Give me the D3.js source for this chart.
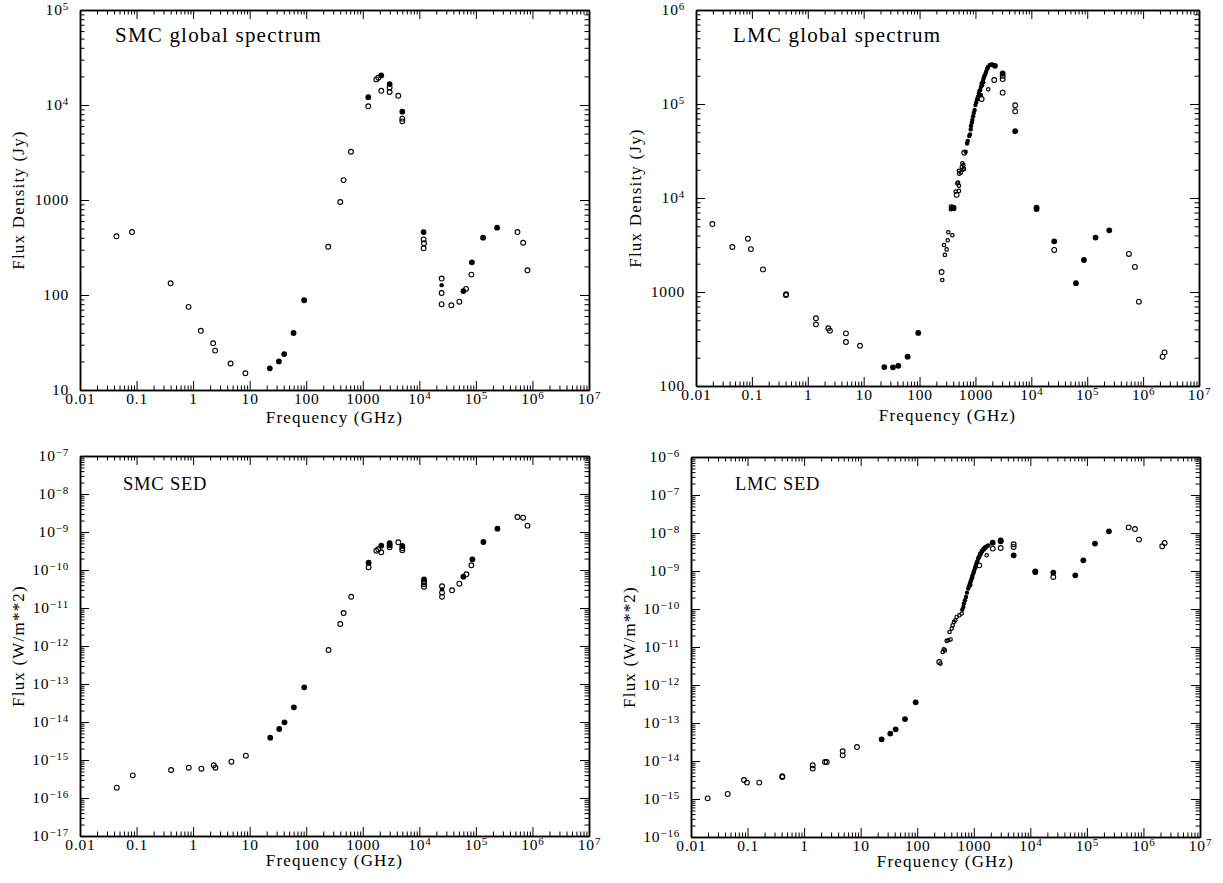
<!DOCTYPE html>
<html>
<head>
<meta charset="utf-8">
<script src="https://cdn.jsdelivr.net/npm/d3@7"></script>
<style>
  body { margin: 0; background: #fff; }
  svg { display: block; }
  text { font-family: "Liberation Serif", "Times New Roman", serif; fill: #000; }
</style>
</head>
<body>
<div id="chart"></div>
<script>
// frequency axis shared by all four panels (GHz)
const freqDomain = [0.01, 1e7];

// SMC global spectrum: [GHz, Jy]
const smcSpecOpen = [
  [0.044, 415], [0.083, 460], [0.40, 133], [0.83, 75], [1.37, 42], [2.26, 31], [2.45, 26], [4.6, 19], [8.4, 15],
  [245, 322], [400, 953], [458, 1620], [618, 3220],
  [1250, 9690], [1734, 18600], [1880, 19400], [2123, 14100], [2985, 15300], [2985, 13700], [4246, 12500], [5000, 7180], [5000, 6730],
  [11900, 385], [12100, 350], [11900, 310],
  [24800, 149], [24800, 105], [24800, 80], [36800, 78], [51000, 85], [67000, 116], [83200, 164],
  [543000, 460], [684000, 355], [817000, 182]
];
const smcSpecFilled = [
  [22.7, 16.9], [32.9, 20], [40.8, 23.9], [59.7, 39.8], [92, 88],
  [1250, 12100], [2123, 20500], [2985, 16600], [5000, 8500], [11900, 460],
  [60100, 110], [85000, 221], [134000, 401], [237000, 511]
];
const smcSpecSmallFilled = [[24800, 127]];

// LMC global spectrum: [GHz, Jy]
const lmcSpecOpen = [
  [0.0196, 5280], [0.0447, 3010], [0.085, 3690], [0.096, 2860], [0.158, 1740], [0.407, 929], [0.41, 945],
  [1.40, 525], [1.40, 453], [2.33, 411], [2.49, 388], [4.82, 363], [4.82, 294], [8.6, 268],
  [248, 1633], [395, 7800], [461, 10800], [631, 30300], [1290, 113000], [2170, 180000],
  [3070, 199000], [3070, 184000], [3070, 132000], [5150, 96900], [5150, 83600],
  [25700, 2800], [557000, 2540], [713000, 1850], [841000, 789], [2.23e6, 205], [2.42e6, 228]
];
const lmcSpecFilled = [
  [23.4, 159], [33.4, 158], [41.6, 164], [61.2, 205], [94.9, 367],
  [2234, 255000], [3070, 212000], [5150, 51300], [12400, 7640], [12400, 7900],
  [25700, 3460], [62800, 1240], [87300, 2190], [141000, 3790], [248000, 4530]
];
// scattered small points on the rising side
const lmcSpecSmallOpen = [
  [255, 1340], [284, 2480], [305, 2840], [274, 3160], [319, 3550], [327, 4320], [386, 4010],
  [363, 7590], [389, 7760], [417, 7670], [363, 8130], [389, 8040], [417, 7940],
  [443, 11700], [507, 11900], [473, 14300], [490, 14600], [507, 13500],
  [513, 18100], [550, 18600], [507, 19500], [589, 20000], [569, 21400], [624, 20400], [610, 22400], [582, 23400],
  [1694, 143200]
];
// the dense run of small points near the peak
const lmcSpecSmallFilled = [
  [668, 31100], [708, 38000], [726, 40400], [776, 45700], [798, 47400], [822, 53700], [832, 58300],
  [861, 63100], [881, 67600], [908, 74100], [933, 80400], [966, 86300], [1000, 97700], [1035, 104700],
  [1072, 112200], [1109, 119700], [1156, 130000], [1180, 138000], [1219, 140900], [1250, 125000],
  [1253, 152800], [1291, 166000], [1320, 158000], [1361, 175800], [1380, 170000], [1400, 187500],
  [1430, 196000], [1479, 203700], [1530, 214000], [1560, 220800], [1607, 235500], [1650, 242000],
  [1694, 249500], [1816, 260000], [1900, 262000], [2000, 264200]
];

// SMC SED: [GHz, W/m**2]
const smcSedOpen = [
  [0.0447, 1.87e-16], [0.0857, 3.95e-16], [0.408, 5.46e-16], [0.838, 6.27e-16], [1.40, 5.90e-16],
  [2.32, 7.26e-16], [2.48, 6.27e-16], [4.76, 9.02e-16], [8.57, 1.30e-15],
  [248, 7.85e-13], [400, 3.79e-12], [458, 7.38e-12], [625, 1.98e-11],
  [1268, 1.18e-10], [1734, 3.22e-10], [1879, 3.51e-10], [2123, 2.92e-10], [2985, 3.95e-10], [4246, 5.36e-10],
  [5000, 3.72e-10], [5000, 3.30e-10],
  [12100, 5.05e-11], [12100, 4.29e-11], [12100, 3.64e-11],
  [25200, 3.72e-11], [25200, 2.54e-11], [25200, 1.98e-11], [37900, 2.92e-11], [51000, 4.36e-11],
  [67900, 7.71e-11], [83200, 1.33e-10],
  [543000, 2.48e-9], [684000, 2.38e-9], [817000, 1.47e-9]
];
const smcSedFilled = [
  [23.1, 3.86e-15], [33.3, 6.55e-15], [41.3, 9.82e-15], [60.5, 2.44e-14], [92.3, 8.18e-14],
  [1268, 1.56e-10], [2123, 4.36e-10], [2985, 5.05e-10], [2985, 4.47e-10], [5000, 4.29e-10],
  [12100, 5.69e-11], [60100, 6.67e-11], [86700, 1.91e-10], [135800, 5.46e-10], [240400, 1.22e-9]
];
const smcSedSmallFilled = [[25200, 3.10e-11]];

// LMC SED: [GHz, W/m**2]
const lmcSedOpen = [
  [0.0197, 1.04e-15], [0.0446, 1.36e-15], [0.0865, 3.16e-15], [0.0977, 2.70e-15], [0.161, 2.70e-15],
  [0.411, 3.79e-15], [0.411, 3.98e-15], [1.42, 7.71e-15], [1.42, 6.31e-15], [2.34, 9.42e-15], [2.51, 9.42e-15],
  [4.81, 1.80e-14], [4.81, 1.41e-14], [8.61, 2.33e-14],
  [245, 4.03e-12], [1250, 1.41e-9], [2168, 3.88e-9], [2992, 4.03e-9], [5070, 5.05e-9], [5070, 4.29e-9],
  [25470, 6.95e-10], [548000, 1.41e-8], [708000, 1.27e-8], [834000, 6.70e-9], [2.15e6, 4.47e-9], [2.37e6, 5.46e-9]
];
const lmcSedFilled = [
  [23.5, 3.72e-14], [33.4, 5.26e-14], [41.6, 6.82e-14], [60.8, 1.27e-13], [94.0, 3.51e-13],
  [2158, 5.58e-9], [2992, 6.43e-9], [2992, 6.03e-9], [5070, 2.59e-9], [12250, 9.42e-10], [12250, 9.77e-10],
  [25470, 9.08e-10], [62370, 7.71e-10], [86500, 1.91e-9], [139000, 5.26e-9], [245500, 1.11e-8]
];
const lmcSedSmallOpen = [
  [257, 3.66e-12], [282, 7.38e-12], [295, 8.71e-12], [309, 8.13e-12], [331, 1.45e-11], [355, 1.51e-11],
  [389, 1.58e-11], [372, 2.48e-11], [407, 3.05e-11], [424, 3.72e-11], [447, 4.55e-11], [471, 5.05e-11],
  [498, 6.17e-11], [555, 6.82e-11], [611, 7.59e-11], [1687, 2.59e-9]
];
const lmcSedSmallFilled = [
  [627, 9.64e-11], [653, 1.13e-10], [670, 1.39e-10],
  [698, 1.69e-10], [728, 2.07e-10], [759, 2.69e-10], [798, 3.44e-10], [822, 3.98e-10], [855, 4.66e-10],
  [881, 5.37e-10], [914, 6.31e-10], [944, 7.41e-10], [979, 8.55e-10], [1012, 1.0e-9], [1050, 1.16e-9],
  [1084, 1.35e-9], [1122, 1.57e-9], [1161, 1.82e-9], [1199, 2.12e-9], [1245, 2.34e-9], [1285, 2.59e-9],
  [1318, 2.82e-9], [1374, 3.16e-9], [1413, 3.39e-9], [1472, 3.66e-9], [1514, 3.89e-9], [1574, 4.13e-9],
  [1622, 4.27e-9], [1730, 4.47e-9],
  [870, 4.3e-10], [940, 6.6e-10], [1000, 9.6e-10], [1070, 1.25e-9], [1140, 1.7e-9], [1220, 2.3e-9],
  [1300, 2.9e-9], [1400, 3.4e-9], [1500, 3.7e-9], [1600, 4.0e-9], [1800, 4.7e-9]
];

const panels = [
  { title: 'SMC global spectrum', ylabel: 'Flux Density (Jy)', yDomain: [10, 1e5],
    box: [80, 589, 10, 390], titleAt: [35, 32], titleSize: 21, titleSpacing: 1.2, ylabelX: 18, xlabelDy: 33,
    open: smcSpecOpen, filled: smcSpecFilled, smallOpen: [], smallFilled: smcSpecSmallFilled },
  { title: 'LMC global spectrum', ylabel: 'Flux Density (Jy)', yDomain: [100, 1e6],
    box: [696, 1199, 10, 386], titleAt: [37, 32], titleSize: 21, titleSpacing: 1.2, ylabelX: 635, xlabelDy: 35,
    open: lmcSpecOpen, filled: lmcSpecFilled, smallOpen: lmcSpecSmallOpen, smallFilled: lmcSpecSmallFilled },
  { title: 'SMC SED', ylabel: 'Flux (W/m**2)', yDomain: [1e-17, 1e-7],
    box: [80, 589, 456, 836], titleAt: [43, 34], titleSize: 18.5, titleSpacing: 0.8, ylabelX: 18, xlabelDy: 30,
    open: smcSedOpen, filled: smcSedFilled, smallOpen: [], smallFilled: smcSedSmallFilled },
  { title: 'LMC SED', ylabel: 'Flux (W/m**2)', yDomain: [1e-16, 1e-6],
    box: [691, 1200, 457, 837], titleAt: [44, 33], titleSize: 18.5, titleSpacing: 0.8, ylabelX: 629, xlabelDy: 30,
    open: lmcSedOpen, filled: lmcSedFilled, smallOpen: lmcSedSmallOpen, smallFilled: lmcSedSmallFilled }
];

const svg = d3.select('#chart').append('svg')
    .attr('width', 1223)
    .attr('height', 883);

// decade and minor (2..9) tick values for a log domain
function logTicks(domain) {
    const lo = Math.round(Math.log10(domain[0]));
    const hi = Math.round(Math.log10(domain[1]));
    const major = [], minor = [];
    for (let e = lo; e <= hi; e++) {
        major.push(Math.pow(10, e));
        if (e < hi) for (let k = 2; k <= 9; k++) minor.push(k * Math.pow(10, e));
    }
    return { major, minor };
}

// PGPLOT style labels: plain numbers near unity, 10^n otherwise
function styleLabels(sel) {
    sel.selectAll('.tick text').each(function(d) {
        const e = Math.round(Math.log10(d));
        const t = d3.select(this).text(null);
        if (e >= -2 && e <= 3) {
            t.text(e < 0 ? d.toFixed(-e) : String(Math.round(d)));
        } else {
            t.append('tspan').text('10');
            t.append('tspan')
                .attr('dy', '-0.5em')
                .attr('font-size', '11px')
                .text(e < 0 ? '\u2212' + (-e) : String(e));
        }
    });
}

function drawPanel(p) {
    const [x0, x1, y0, y1] = p.box;
    const x = d3.scaleLog().domain(freqDomain).range([x0, x1]);
    const y = d3.scaleLog().domain(p.yDomain).range([y1, y0]);
    const xt = logTicks(freqDomain);
    const yt = logTicks(p.yDomain);
    const g = svg.append('g');

    const MAJ = 9, MIN = 4.5;

    // minor ticks on all four sides
    g.append('g').attr('transform', `translate(0,${y1})`)
        .call(d3.axisBottom(x).tickValues(xt.minor).tickSize(-MIN).tickSizeOuter(0).tickFormat(''));
    g.append('g').attr('transform', `translate(0,${y0})`)
        .call(d3.axisTop(x).tickValues(xt.minor).tickSize(-MIN).tickSizeOuter(0).tickFormat(''));
    g.append('g').attr('transform', `translate(${x0},0)`)
        .call(d3.axisLeft(y).tickValues(yt.minor).tickSize(-MIN).tickSizeOuter(0).tickFormat(''));
    g.append('g').attr('transform', `translate(${x1},0)`)
        .call(d3.axisRight(y).tickValues(yt.minor).tickSize(-MIN).tickSizeOuter(0).tickFormat(''));

    // major ticks + labels
    g.append('g').attr('class', 'xaxis').attr('transform', `translate(0,${y1})`)
        .call(d3.axisBottom(x).tickValues(xt.major).tickSize(-MAJ).tickSizeOuter(0).tickPadding(3))
        .call(styleLabels);
    g.append('g').attr('transform', `translate(0,${y0})`)
        .call(d3.axisTop(x).tickValues(xt.major).tickSize(-MAJ).tickSizeOuter(0).tickFormat(''));
    g.append('g').attr('class', 'yaxis').attr('transform', `translate(${x0},0)`)
        .call(d3.axisLeft(y).tickValues(yt.major).tickSize(-MAJ).tickSizeOuter(0).tickPadding(11))
        .call(styleLabels);
    g.append('g').attr('transform', `translate(${x1},0)`)
        .call(d3.axisRight(y).tickValues(yt.major).tickSize(-MAJ).tickSizeOuter(0).tickFormat(''));

    g.selectAll('.domain').attr('stroke', '#000').attr('stroke-width', 1.5);
    g.selectAll('.tick line').attr('stroke', '#000').attr('stroke-width', 1);
    g.selectAll('.tick text')
        .attr('font-size', '15.5px')
        .attr('letter-spacing', '0.8px')
        .attr('fill', '#000');

    // markers
    g.append('g').selectAll('circle')
        .data(p.smallOpen)
        .enter()
        .append('circle')
        .attr('cx', d => x(d[0]))
        .attr('cy', d => y(d[1]))
        .attr('r', 1.7)
        .attr('fill', 'none')
        .attr('stroke', '#000')
        .attr('stroke-width', 1.2);

    g.append('g').selectAll('circle')
        .data(p.smallFilled)
        .enter()
        .append('circle')
        .attr('cx', d => x(d[0]))
        .attr('cy', d => y(d[1]))
        .attr('r', 2.2)
        .attr('fill', '#000');

    g.append('g').selectAll('circle')
        .data(p.filled)
        .enter()
        .append('circle')
        .attr('cx', d => x(d[0]))
        .attr('cy', d => y(d[1]))
        .attr('r', 2.9)
        .attr('fill', '#000');

    g.append('g').selectAll('circle')
        .data(p.open)
        .enter()
        .append('circle')
        .attr('cx', d => x(d[0]))
        .attr('cy', d => y(d[1]))
        .attr('r', 2.4)
        .attr('fill', '#fff')
        .attr('fill-opacity', 0)
        .attr('stroke', '#000')
        .attr('stroke-width', 1.1);

    // title inside the frame
    g.append('text')
        .attr('x', x0 + p.titleAt[0])
        .attr('y', y0 + p.titleAt[1])
        .attr('font-size', p.titleSize + 'px')
        .attr('letter-spacing', p.titleSpacing + 'px')
        .text(p.title);

    // axis titles
    g.append('text')
        .attr('x', (x0 + x1) / 2)
        .attr('y', y1 + p.xlabelDy)
        .attr('text-anchor', 'middle')
        .attr('font-size', '17px')
        .attr('letter-spacing', '1.2px')
        .text('Frequency (GHz)');

    g.append('text')
        .attr('transform', `translate(${p.ylabelX},${(y0 + y1) / 2}) rotate(-90)`)
        .attr('text-anchor', 'middle')
        .attr('dy', '0.35em')
        .attr('font-size', '17px')
        .attr('letter-spacing', '1.2px')
        .text(p.ylabel);
}

panels.forEach(drawPanel);
</script>
</body>
</html>
